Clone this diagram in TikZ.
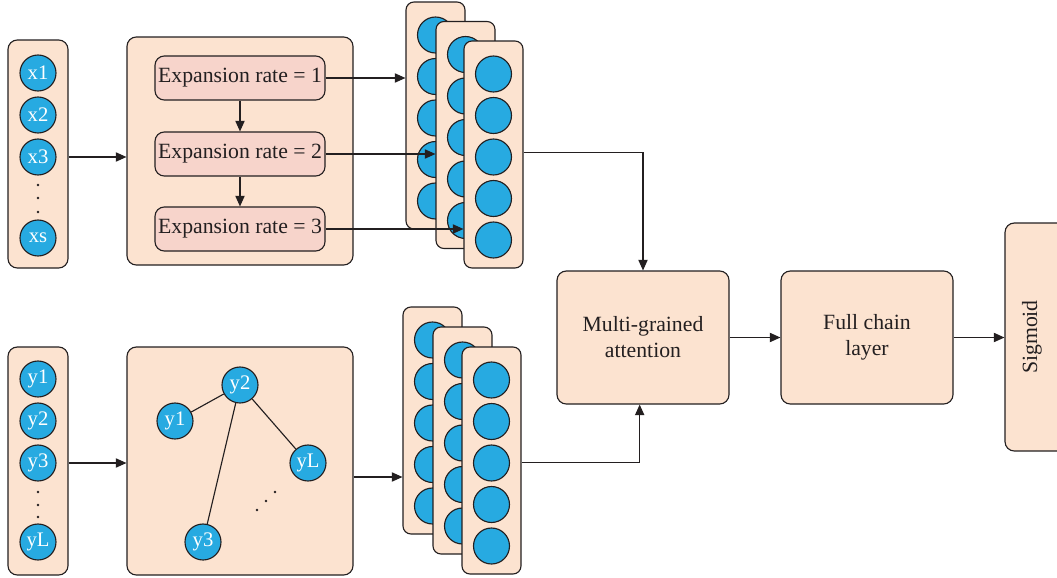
\documentclass[tikz,border=0pt]{standalone}
\usepackage{fontspec}
\setmainfont{Liberation Serif}
\usetikzlibrary{arrows.meta,fit}
\definecolor{peach}{HTML}{FCE3D0}
\definecolor{pinkb}{HTML}{F7D4CB}
\definecolor{cblue}{HTML}{27AAE1}
\definecolor{edgec}{HTML}{231F20}
\begin{document}
\begin{tikzpicture}[x=0.75pt,y=-0.75pt,
 box/.style={draw=edgec, fill=peach, line width=0.85pt, rounded corners=7pt, inner sep=0pt},
 sbox/.style={draw=edgec, fill=peach, line width=0.85pt, rounded corners=6pt, inner sep=0pt},
 ebox/.style={draw=edgec, fill=pinkb, line width=0.85pt, rounded corners=7pt, inner sep=0pt},
 ball/.style={circle, draw=edgec, fill=cblue, line width=0.85pt, minimum size=27pt, inner sep=0pt, text=white, font=\fontsize{15.5}{18}\selectfont},
 arr/.style={draw=edgec, line width=0.85pt, -{Triangle[length=8pt,width=7pt]}},
 ln/.style={draw=edgec, line width=0.85pt},
 pt/.style={circle, fill=edgec, inner sep=0pt, minimum size=2.2pt},
 lbl/.style={font=\fontsize{16.3}{19.5}\selectfont, align=center, text=edgec}]
\clip (0,0) rectangle (1057,578);
\useasboundingbox (0,0) rectangle (1057,578);

% ---------- top input ----------
\node[box, fit={(8,40)(68,268)}] (X) {};
\node[ball] (x1) at (38,73) {x1};
\node[ball] (x2) at (38,115) {x2};
\node[ball] (x3) at (38,157) {x3};
\node[pt] (xd1) at (38,185) {};
\node[pt] (xd2) at (38,198) {};
\node[pt] (xd3) at (38,212) {};
\node[ball] (xs) at (38,238) {xs};

\node[box, fit={(127,37)(353,265)}] (G) {};
\node[ebox, fit={(155,56)(325,100)}] (E1) {};
\node[lbl] (E1T) at (E1.center) {Expansion rate = 1};
\node[ebox, fit={(155,132)(325,176)}] (E2) {};
\node[lbl] (E2T) at (E2.center) {Expansion rate = 2};
\node[ebox, fit={(155,207)(325,251)}] (E3) {};
\node[lbl] (E3T) at (E3.center) {Expansion rate = 3};

% ---------- top stacks ----------
\foreach \n/\x/\y in {S1a/406/2, S2a/436/21.5, S3a/464/41}{
  \node[sbox, fit={(\x,\y)(\x+59,\y+227)}] (\n) {};
  \foreach \k in {0,...,4}
    \node[ball] (\n-\k) at (\x+29.5,\y+33+41.5*\k) {};
}

% ---------- bottom input ----------
\node[box, fit={(8,347)(68,575)}] (Y) {};
\node[ball] (y1) at (38,379) {y1};
\node[ball] (y2) at (38,421) {y2};
\node[ball] (y3) at (38,463) {y3};
\node[pt] (yd1) at (38,492) {};
\node[pt] (yd2) at (38,505) {};
\node[pt] (yd3) at (38,517) {};
\node[ball] (yL) at (38,542) {yL};

\node[box, fit={(127,347)(353,575)}] (GY) {};
\node[ball] (g2) at (240,385) {y2};
\node[ball] (g1) at (175,421) {y1};
\node[ball] (gL) at (308,463) {yL};
\node[ball] (g3) at (203,542) {y3};
\node[pt] (gd1) at (257,510) {};
\node[pt] (gd2) at (266,501) {};
\node[pt] (gd3) at (275,492) {};
\draw[ln] (g2) -- (g1);
\draw[ln] (g2) -- (g3);
\draw[ln] (g2) -- (gL);

% ---------- bottom stacks ----------
\foreach \n/\x/\y in {S1b/403/307, S2b/433/327, S3b/462/347}{
  \node[sbox, fit={(\x,\y)(\x+59,\y+227)}] (\n) {};
  \foreach \k in {0,...,4}
    \node[ball] (\n-\k) at (\x+29.5,\y+33+41.5*\k) {};
}

% ---------- right part ----------
\node[box, fit={(557,271)(729,404)}] (att) {};
\node[lbl] (attT) at (att.center) {Multi-grained\\attention};
\node[box, fit={(781,271)(953,404)}] (fc) {};
\node[lbl] (fcT) at (fc.center) {Full chain\\layer};
\node[box, fit={(1005,223)(1080,451)}] (sig) {};
\node[lbl, rotate=90] (sigT) at (1032,337) {Sigmoid};

% ---------- connectors ----------
\coordinate (ga) at (0,477);
\draw[arr] (X.east |- x3) -- (G.west |- x3);
\draw[arr] (E1.south) -- (E2.north);
\draw[arr] (E2.south) -- (E3.north);
\draw[arr] (E1.east) -- (S1a.west |- E1.east);
\draw[arr] (E2.east) -- (S2a.west |- E2.east);
\draw[arr] (E3.east) -- (S3a.west |- E3.east);
\draw[arr] ([yshift=1.5pt]S3a.east) -| (att.north);
\draw[arr] (Y.east |- y3) -- (GY.west |- y3);
\draw[arr] (GY.east |- ga) -- (S1b.west |- ga);
\draw[arr] ([yshift=-1.5pt]S3b.east) -| ([xshift=-2.5pt]att.south);
\draw[arr] (att.east) -- (fc.west);
\draw[arr] (fc.east) -- (fc.east -| sig.west);
\end{tikzpicture}
\end{document}
